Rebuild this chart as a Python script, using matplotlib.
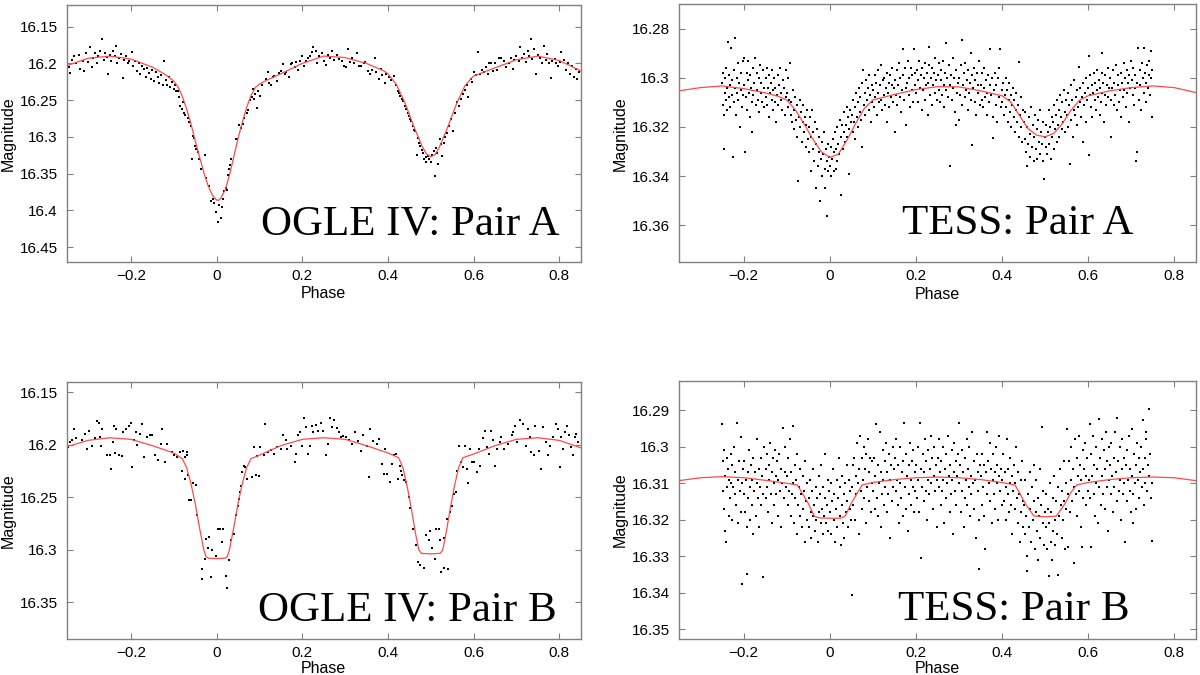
import numpy as np
import matplotlib
matplotlib.use("Agg")
import matplotlib.pyplot as plt
from matplotlib.ticker import FuncFormatter

plt.rcParams['font.family'] = ['Liberation Sans', 'DejaVu Sans']

# ---------------- data ----------------
xticks = [-0.2, 0, 0.2, 0.4, 0.6, 0.8]
yticks_ogle_a = [16.15, 16.2, 16.25, 16.3, 16.35, 16.4, 16.45]
yticks_tess_a = [16.28, 16.3, 16.32, 16.34, 16.36]
yticks_ogle_b = [16.15, 16.2, 16.25, 16.3, 16.35]
yticks_tess_b = [16.29, 16.3, 16.31, 16.32, 16.33, 16.34, 16.35]
labels = ["OGLE IV: Pair A", "TESS: Pair A", "OGLE IV: Pair B", "TESS: Pair B"]

ogle_a_obs = [
(-0.345,16.205),(-0.342,16.213),(-0.338,16.195),(-0.333,16.19),(-0.328,16.2),(-0.322,16.188),(-0.318,16.207),(-0.313,16.196),(-0.31,16.21),(-0.305,16.186),
(-0.3,16.198),(-0.295,16.178),(-0.292,16.205),(-0.288,16.192),(-0.283,16.186),(-0.28,16.2),(-0.276,16.19),(-0.272,16.183),(-0.267,16.167),(-0.264,16.195),
(-0.26,16.186),(-0.256,16.191),(-0.254,16.215),(-0.25,16.188),(-0.246,16.196),(-0.242,16.183),(-0.238,16.19),(-0.236,16.176),(-0.232,16.2),(-0.228,16.193),
(-0.224,16.187),(-0.219,16.22),(-0.216,16.195),(-0.212,16.19),(-0.208,16.2),(-0.204,16.196),(-0.198,16.184),(-0.195,16.203),(-0.19,16.197),(-0.186,16.21),
(-0.182,16.2),(-0.178,16.214),(-0.174,16.203),(-0.17,16.207),(-0.166,16.218),(-0.162,16.206),(-0.158,16.213),(-0.154,16.221),(-0.15,16.209),(-0.146,16.224),
(-0.142,16.212),(-0.138,16.219),(-0.134,16.227),(-0.13,16.216),(-0.126,16.23),(-0.122,16.196),(-0.119,16.222),(-0.115,16.229),(-0.112,16.219),(-0.108,16.232),
(-0.104,16.225),(-0.1,16.235),(-0.097,16.229),(-0.094,16.238),(-0.091,16.237),(-0.088,16.246),(-0.086,16.258),(-0.082,16.262),(-0.079,16.252),(-0.077,16.267),
(-0.073,16.27),(-0.068,16.274),(-0.065,16.28),(-0.06,16.285),(-0.057,16.33),(-0.055,16.299),(-0.053,16.302),(-0.051,16.312),(-0.048,16.316),(-0.044,16.32),
(-0.041,16.33),(-0.037,16.343),(-0.028,16.325),(-0.024,16.356),(-0.018,16.367),(-0.012,16.387),(-0.008,16.384),(-0.006,16.39),(-0.002,16.402),(0.003,16.416),
(0.006,16.392),(0.01,16.41),(0.013,16.395),(0.016,16.385),(0.018,16.374),(0.021,16.369),(0.024,16.372),(0.027,16.352),(0.03,16.344),(0.032,16.338),
(0.034,16.33),(0.045,16.303),(0.048,16.303),(0.052,16.284),(0.057,16.288),(0.061,16.283),(0.065,16.274),(0.07,16.267),(0.074,16.264),(0.079,16.25),
(0.082,16.245),(0.085,16.235),(0.088,16.249),(0.09,16.241),(0.094,16.26),(0.097,16.238),(0.101,16.244),(0.106,16.23),(0.115,16.221),(0.119,16.212),
(0.122,16.226),(0.128,16.23),(0.132,16.219),(0.135,16.217),(0.141,16.224),(0.145,16.213),(0.15,16.21),(0.155,16.201),(0.159,16.215),(0.163,16.212),
(0.168,16.219),(0.173,16.201),(0.177,16.199),(0.182,16.205),(0.186,16.198),(0.19,16.209),(0.195,16.196),(0.2,16.19),(0.204,16.203),(0.208,16.196),
(0.213,16.192),(0.218,16.19),(0.222,16.185),(0.226,16.178),(0.231,16.183),(0.235,16.199),(0.24,16.19),(0.245,16.186),(0.25,16.197),(0.255,16.202),
(0.26,16.188),(0.265,16.192),(0.269,16.183),(0.275,16.195),(0.28,16.189),(0.286,16.194),(0.292,16.196),(0.298,16.203),(0.303,16.205),(0.307,16.18),
(0.311,16.198),(0.315,16.192),(0.32,16.2),(0.327,16.186),(0.332,16.204),(0.338,16.203),(0.343,16.2),(0.347,16.198),(0.354,16.21),(0.358,16.214),
(0.363,16.209),(0.369,16.193),(0.373,16.212),(0.378,16.221),(0.383,16.207),(0.387,16.216),(0.392,16.226),(0.396,16.215),(0.402,16.219),(0.408,16.222),
(0.414,16.217),(0.418,16.23),(0.423,16.237),(0.426,16.24),(0.429,16.244),(0.433,16.248),(0.436,16.251),(0.44,16.258),(0.443,16.262),(0.446,16.268),
(0.448,16.271),(0.452,16.276),(0.454,16.278),(0.459,16.285),(0.461,16.29),(0.463,16.292),(0.468,16.324),(0.47,16.302),(0.472,16.308),(0.476,16.312),
(0.48,16.318),(0.483,16.322),(0.485,16.33),(0.488,16.327),(0.49,16.334),(0.494,16.326),(0.497,16.33),(0.501,16.334),(0.504,16.325),(0.508,16.319),
(0.51,16.353),(0.512,16.315),(0.515,16.322),(0.517,16.337),(0.521,16.303),(0.524,16.31),(0.526,16.326),(0.53,16.308),(0.534,16.3),(0.539,16.294),
(0.543,16.285),(0.548,16.276),(0.553,16.292),(0.557,16.267),(0.561,16.253),(0.565,16.258),(0.57,16.248),(0.575,16.242),(0.58,16.236),(0.584,16.23),
(0.588,16.246),(0.593,16.221),(0.597,16.225),(0.602,16.211),(0.606,16.216),(0.61,16.185),(0.615,16.215),(0.62,16.209),(0.624,16.212),(0.628,16.205),
(0.633,16.214),(0.637,16.199),(0.641,16.199),(0.646,16.21),(0.651,16.2),(0.655,16.209),(0.66,16.193),(0.665,16.193),(0.671,16.196),(0.676,16.205),
(0.682,16.199),(0.687,16.192),(0.691,16.208),(0.695,16.195),(0.7,16.19),(0.705,16.196),(0.709,16.178),(0.713,16.192),(0.717,16.187),(0.722,16.198),
(0.726,16.183),(0.73,16.19),(0.734,16.167),(0.737,16.194),(0.74,16.18),(0.745,16.215),(0.75,16.188),(0.755,16.192),(0.759,16.199),(0.764,16.176),
(0.768,16.195),(0.771,16.187),(0.775,16.2),(0.78,16.22),(0.784,16.196),(0.789,16.194),(0.793,16.2),(0.798,16.203),(0.802,16.198),(0.805,16.184),
(0.811,16.195),(0.815,16.209),(0.82,16.2),(0.825,16.214),(0.829,16.203),(0.834,16.218),(0.838,16.207),(0.842,16.221),(0.846,16.211),
]
ogle_a_model = [
(-0.35,16.203),(-0.3,16.193),(-0.25,16.19),(-0.2,16.194),(-0.15,16.205),(-0.12,16.215),(-0.1,16.224),(-0.09,16.232),(-0.08,16.245),(-0.07,16.262),
(-0.06,16.282),(-0.05,16.305),(-0.04,16.327),(-0.03,16.348),(-0.02,16.366),(-0.01,16.379),(0.0,16.386),(0.005,16.386),(0.01,16.383),(0.02,16.372),
(0.03,16.352),(0.04,16.327),(0.05,16.302),(0.06,16.28),(0.07,16.26),(0.08,16.244),(0.09,16.233),(0.1,16.228),(0.12,16.222),(0.15,16.214),
(0.2,16.2),(0.25,16.19),(0.3,16.192),(0.35,16.2),(0.39,16.21),(0.4,16.214),(0.42,16.229),(0.44,16.254),(0.46,16.285),(0.48,16.313),
(0.49,16.323),(0.5,16.327),(0.51,16.324),(0.52,16.314),(0.54,16.286),(0.56,16.255),(0.58,16.23),(0.6,16.217),(0.65,16.206),(0.7,16.195),
(0.75,16.19),(0.8,16.196),(0.85,16.21),
]

tess_a_obs = [
(-0.249,16.302),(-0.248,16.311),(-0.247,16.298),(-0.246,16.315),(-0.245,16.329),(-0.244,16.306),(-0.243,16.300),(-0.241,16.309),(-0.240,16.296),(-0.239,16.313),
(-0.238,16.304),(-0.236,16.2855),(-0.235,16.308),(-0.234,16.299),(-0.232,16.303),(-0.231,16.312),(-0.229,16.288),(-0.228,16.307),(-0.226,16.301),(-0.224,16.332),
(-0.223,16.297),(-0.222,16.310),(-0.221,16.304),(-0.219,16.2837),(-0.218,16.315),(-0.216,16.300),(-0.215,16.306),(-0.213,16.294),(-0.212,16.309),(-0.210,16.302),
(-0.208,16.320),(-0.207,16.298),(-0.205,16.305),(-0.204,16.312),(-0.202,16.293),(-0.201,16.307),
(-0.199,16.303),(-0.198,16.292),(-0.196,16.330),(-0.195,16.308),(-0.193,16.298),(-0.192,16.313),(-0.190,16.301),(-0.189,16.293),(-0.187,16.306),(-0.186,16.316),
(-0.184,16.299),(-0.183,16.304),(-0.181,16.322),(-0.180,16.310),(-0.178,16.296),(-0.177,16.307),(-0.175,16.302),(-0.174,16.292),(-0.172,16.311),(-0.170,16.305),
(-0.169,16.298),(-0.167,16.309),(-0.165,16.300),(-0.164,16.314),(-0.162,16.295),(-0.160,16.306),(-0.159,16.302),(-0.157,16.310),(-0.155,16.297),(-0.153,16.304),(-0.152,16.312),
(-0.149,16.300),(-0.148,16.308),(-0.146,16.296),(-0.145,16.311),(-0.143,16.304),(-0.142,16.299),(-0.140,16.316),(-0.139,16.306),(-0.137,16.302),(-0.135,16.309),
(-0.134,16.297),(-0.132,16.313),(-0.131,16.305),(-0.129,16.300),(-0.127,16.310),(-0.126,16.304),(-0.124,16.318),(-0.122,16.307),(-0.121,16.299),(-0.119,16.311),
(-0.117,16.303),(-0.115,16.296),(-0.114,16.309),(-0.112,16.306),(-0.110,16.313),(-0.108,16.301),(-0.106,16.304),(-0.104,16.315),(-0.102,16.297),(-0.101,16.308),
(-0.099,16.306),(-0.098,16.312),(-0.096,16.300),(-0.094,16.309),(-0.092,16.294),(-0.091,16.315),(-0.089,16.310),(-0.087,16.318),(-0.086,16.305),(-0.084,16.321),
(-0.082,16.313),(-0.080,16.308),(-0.079,16.317),(-0.077,16.311),(-0.075,16.324),(-0.073,16.342),(-0.072,16.316),(-0.070,16.309),(-0.068,16.320),(-0.066,16.314),
(-0.065,16.326),(-0.063,16.318),(-0.061,16.311),(-0.059,16.322),(-0.058,16.316),(-0.056,16.328),(-0.054,16.319),(-0.053,16.313),(-0.051,16.325),
(-0.049,16.320),(-0.048,16.330),(-0.046,16.316),(-0.044,16.338),(-0.043,16.324),(-0.041,16.313),(-0.040,16.329),(-0.038,16.322),(-0.036,16.334),(-0.035,16.318),
(-0.033,16.345),(-0.031,16.327),(-0.030,16.321),(-0.028,16.336),(-0.026,16.330),(-0.024,16.324),(-0.022,16.350),(-0.021,16.333),(-0.019,16.326),(-0.017,16.340),
(-0.016,16.331),(-0.014,16.322),(-0.012,16.337),(-0.011,16.345),(-0.009,16.329),(-0.007,16.334),(-0.006,16.356),(-0.004,16.338),(-0.003,16.327),(-0.001,16.332),
(0.001,16.336),(0.002,16.328),(0.004,16.340),(0.005,16.333),(0.007,16.325),(0.009,16.338),(0.010,16.330),(0.012,16.322),(0.014,16.337),(0.015,16.329),
(0.017,16.334),(0.018,16.320),(0.020,16.327),(0.022,16.331),(0.023,16.317),(0.025,16.3475),(0.027,16.324),(0.028,16.319),(0.030,16.329),(0.032,16.322),
(0.033,16.314),(0.035,16.326),(0.037,16.319),(0.039,16.312),(0.040,16.324),(0.042,16.316),(0.044,16.321),(0.045,16.339),(0.047,16.313),(0.049,16.318),
(0.051,16.315),(0.053,16.322),(0.054,16.309),(0.056,16.318),(0.058,16.312),(0.059,16.325),(0.061,16.306),(0.063,16.316),(0.065,16.310),(0.066,16.320),
(0.068,16.304),(0.070,16.314),(0.071,16.308),(0.073,16.317),(0.075,16.328),(0.076,16.302),(0.078,16.297),(0.080,16.311),(0.081,16.306),(0.083,16.315),
(0.085,16.301),(0.087,16.309),(0.088,16.304),(0.090,16.313),(0.092,16.299),(0.094,16.307),(0.095,16.318),(0.097,16.303),(0.099,16.310),
(0.101,16.305),(0.103,16.312),(0.104,16.299),(0.106,16.308),(0.108,16.302),(0.109,16.315),(0.111,16.306),(0.113,16.297),(0.114,16.310),(0.116,16.303),
(0.118,16.309),(0.120,16.295),(0.121,16.313),(0.123,16.301),(0.125,16.307),(0.126,16.300),(0.128,16.311),(0.130,16.304),(0.132,16.318),(0.133,16.298),
(0.135,16.306),(0.137,16.302),(0.138,16.312),(0.140,16.299),(0.142,16.308),(0.144,16.303),(0.145,16.296),(0.147,16.310),(0.149,16.304),
(0.151,16.301),(0.152,16.322),(0.154,16.307),(0.156,16.297),(0.157,16.311),(0.159,16.303),(0.161,16.294),(0.163,16.308),(0.164,16.300),(0.166,16.314),
(0.168,16.305),(0.169,16.2885),(0.171,16.299),(0.173,16.309),(0.175,16.296),(0.176,16.304),(0.178,16.319),(0.180,16.302),(0.182,16.293),(0.183,16.307),
(0.185,16.300),(0.187,16.312),(0.189,16.296),(0.190,16.305),(0.192,16.299),(0.194,16.310),(0.195,16.2885),(0.197,16.303),(0.199,16.298),
(0.201,16.306),(0.203,16.297),(0.204,16.310),(0.206,16.301),(0.208,16.293),(0.209,16.304),(0.211,16.299),(0.213,16.313),(0.215,16.296),(0.216,16.305),
(0.218,16.300),(0.220,16.309),(0.221,16.294),(0.223,16.303),(0.225,16.298),(0.227,16.315),(0.228,16.302),(0.230,16.295),(0.231,16.2875),(0.233,16.307),
(0.235,16.300),(0.237,16.296),(0.238,16.311),(0.240,16.303),(0.242,16.298),(0.244,16.306),(0.245,16.292),(0.247,16.301),(0.249,16.309),
(0.251,16.299),(0.253,16.305),(0.254,16.294),(0.256,16.310),(0.258,16.301),(0.259,16.297),(0.261,16.307),(0.263,16.293),(0.265,16.303),(0.266,16.312),
(0.268,16.298),(0.270,16.305),(0.271,16.286),(0.273,16.300),(0.275,16.308),(0.277,16.295),(0.278,16.303),(0.280,16.336),(0.282,16.299),(0.283,16.309),
(0.285,16.292),(0.287,16.304),(0.289,16.300),(0.290,16.314),(0.292,16.319),(0.294,16.297),(0.295,16.306),(0.297,16.302),(0.299,16.317),
(0.301,16.300),(0.303,16.307),(0.304,16.295),(0.306,16.311),(0.307,16.2847),(0.309,16.303),(0.311,16.298),(0.313,16.308),(0.314,16.294),(0.316,16.305),
(0.318,16.301),(0.320,16.313),(0.321,16.297),(0.323,16.306),(0.325,16.302),(0.327,16.290),(0.328,16.309),(0.330,16.299),(0.331,16.3275),(0.333,16.304),
(0.335,16.296),(0.337,16.310),(0.338,16.301),(0.340,16.315),(0.342,16.298),(0.344,16.306),(0.345,16.303),(0.347,16.293),(0.349,16.311),
(0.351,16.303),(0.353,16.309),(0.354,16.298),(0.356,16.312),(0.358,16.304),(0.359,16.296),(0.361,16.308),(0.363,16.301),(0.365,16.315),(0.366,16.306),
(0.368,16.299),(0.370,16.310),(0.371,16.303),(0.373,16.2885),(0.375,16.307),(0.377,16.300),(0.378,16.316),(0.380,16.3245),(0.382,16.305),(0.383,16.298),
(0.385,16.311),(0.387,16.303),(0.389,16.318),(0.390,16.300),(0.392,16.308),(0.394,16.296),(0.396,16.2885),(0.397,16.312),(0.399,16.305),
(0.401,16.310),(0.403,16.302),(0.404,16.315),(0.406,16.307),(0.408,16.300),(0.409,16.312),(0.411,16.305),(0.413,16.318),(0.415,16.309),(0.416,16.302),
(0.418,16.314),(0.420,16.307),(0.421,16.320),(0.423,16.311),(0.425,16.304),(0.427,16.316),(0.428,16.309),(0.430,16.322),(0.432,16.313),(0.433,16.306),
(0.435,16.318),(0.437,16.311),(0.439,16.324),(0.440,16.2935),(0.442,16.315),(0.444,16.308),(0.445,16.320),(0.447,16.326),(0.449,16.313),
(0.451,16.318),(0.453,16.325),(0.454,16.314),(0.456,16.330),(0.458,16.336),(0.459,16.320),(0.461,16.327),(0.463,16.316),(0.465,16.332),(0.466,16.323),
(0.468,16.312),(0.470,16.328),(0.471,16.319),(0.473,16.334),(0.475,16.324),(0.477,16.315),(0.478,16.329),(0.480,16.321),(0.482,16.333),(0.483,16.317),
(0.485,16.326),(0.487,16.313),(0.489,16.331),(0.490,16.322),(0.492,16.327),(0.494,16.318),(0.496,16.334),(0.498,16.341),(0.499,16.324),
(0.501,16.328),(0.503,16.319),(0.504,16.331),(0.506,16.322),(0.508,16.313),(0.509,16.327),(0.511,16.320),(0.513,16.333),(0.515,16.316),(0.516,16.324),
(0.518,16.318),(0.520,16.329),(0.521,16.311),(0.523,16.321),(0.525,16.315),(0.527,16.326),(0.528,16.309),(0.530,16.319),(0.532,16.313),(0.533,16.324),
(0.535,16.307),(0.537,16.316),(0.539,16.321),(0.540,16.310),(0.542,16.318),(0.544,16.305),(0.545,16.314),(0.547,16.322),(0.549,16.309),
(0.551,16.315),(0.553,16.306),(0.554,16.320),(0.556,16.311),(0.558,16.335),(0.559,16.303),(0.561,16.317),(0.563,16.309),(0.565,16.324),(0.566,16.313),
(0.568,16.301),(0.570,16.315),(0.571,16.308),(0.573,16.319),(0.575,16.305),(0.577,16.312),(0.578,16.2955),(0.580,16.310),(0.582,16.304),(0.583,16.316),
(0.585,16.308),(0.587,16.326),(0.589,16.302),(0.590,16.311),(0.592,16.306),(0.594,16.318),(0.595,16.300),(0.597,16.309),(0.599,16.304),
(0.601,16.291),(0.602,16.3315),(0.603,16.307),(0.604,16.299),(0.606,16.312),(0.608,16.303),(0.609,16.316),(0.611,16.306),(0.613,16.298),(0.615,16.309),
(0.616,16.302),(0.618,16.313),(0.620,16.305),(0.621,16.297),(0.623,16.308),(0.625,16.301),(0.627,16.315),(0.628,16.304),(0.630,16.310),(0.631,16.290),
(0.632,16.298),(0.633,16.306),(0.635,16.302),(0.637,16.318),(0.639,16.307),(0.640,16.299),(0.642,16.311),(0.644,16.303),(0.645,16.296),(0.647,16.308),(0.649,16.304),
(0.651,16.300),(0.653,16.309),(0.654,16.324),(0.656,16.304),(0.658,16.297),(0.659,16.311),(0.661,16.302),(0.663,16.307),(0.665,16.295),(0.666,16.313),
(0.668,16.303),(0.670,16.299),(0.671,16.310),(0.673,16.305),(0.675,16.298),(0.677,16.316),(0.678,16.302),(0.680,16.308),(0.682,16.294),(0.683,16.305),
(0.685,16.300),(0.687,16.312),(0.689,16.297),(0.690,16.306),(0.692,16.302),(0.694,16.318),(0.695,16.299),(0.697,16.304),(0.699,16.293),
(0.701,16.301),(0.703,16.307),(0.704,16.296),(0.706,16.311),(0.708,16.299),(0.709,16.304),(0.711,16.334),(0.713,16.302),(0.714,16.330),(0.716,16.288),
(0.718,16.309),(0.720,16.297),(0.721,16.303),(0.723,16.313),(0.725,16.294),(0.727,16.300),(0.729,16.288),(0.730,16.306),(0.732,16.298),(0.734,16.310),
(0.735,16.302),(0.737,16.295),(0.739,16.304),(0.740,16.299),(0.742,16.293),(0.744,16.307),(0.745,16.289),(0.746,16.300),(0.747,16.297),(0.748,16.316),
]
tess_a_model = [
(-0.35,16.3053),(-0.3,16.304),(-0.25,16.3033),(-0.2,16.3044),(-0.15,16.3061),(-0.12,16.3075),(-0.1,16.309),(-0.08,16.313),(-0.06,16.3186),(-0.04,16.3247),
(-0.02,16.33),(0.0,16.3324),(0.02,16.331),(0.04,16.3254),(0.06,16.3186),(0.08,16.3125),(0.1,16.309),(0.15,16.3068),(0.2,16.3048),(0.25,16.3036),
(0.3,16.3037),(0.35,16.3053),(0.4,16.3073),(0.42,16.3098),(0.44,16.3152),(0.46,16.3206),(0.48,16.3233),(0.5,16.324),(0.52,16.3226),(0.54,16.3186),
(0.56,16.3132),(0.58,16.3091),(0.6,16.3073),(0.65,16.3053),(0.7,16.304),(0.75,16.3033),(0.8,16.304),(0.85,16.306),
]

ogle_b_obs = [
(-0.35,16.222),(-0.346,16.202),(-0.343,16.198),(-0.337,16.196),(-0.334,16.185),(-0.328,16.194),(-0.314,16.196),(-0.308,16.19),(-0.303,16.204),(-0.299,16.187),
(-0.292,16.201),(-0.285,16.194),(-0.279,16.178),(-0.274,16.179),(-0.272,16.193),(-0.27,16.201),(-0.267,16.185),(-0.256,16.21),(-0.249,16.21),(-0.246,16.223),
(-0.243,16.198),(-0.24,16.182),(-0.237,16.208),(-0.234,16.185),(-0.228,16.21),(-0.222,16.211),(-0.219,16.188),(-0.212,16.185),(-0.205,16.182),(-0.201,16.179),
(-0.198,16.221),(-0.194,16.196),(-0.189,16.188),(-0.185,16.2),(-0.18,16.19),(-0.174,16.18),(-0.169,16.212),(-0.162,16.193),(-0.155,16.191),(-0.151,16.191),
(-0.144,16.21),(-0.136,16.215),(-0.131,16.199),(-0.127,16.185),(-0.12,16.217),(-0.116,16.199),(-0.104,16.207),(-0.1,16.21),(-0.093,16.212),(-0.086,16.207),
(-0.079,16.206),(-0.075,16.212),(-0.07,16.207),(-0.069,16.21),(-0.082,16.225),(-0.073,16.233),(-0.067,16.229),(-0.064,16.253),(-0.06,16.253),(-0.055,16.237),
(-0.049,16.238),(-0.046,16.267),(-0.035,16.318),(-0.033,16.328),(-0.028,16.309),(-0.024,16.29),(-0.02,16.298),(-0.017,16.288),(-0.013,16.326),(-0.01,16.3),
(-0.002,16.306),(0.003,16.28),(0.007,16.28),(0.012,16.293),(0.015,16.28),(0.021,16.325),(0.025,16.336),(0.028,16.31),(0.034,16.291),(0.04,16.285),
(0.046,16.267),(0.05,16.258),(0.052,16.252),(0.055,16.245),(0.057,16.239),(0.059,16.226),(0.064,16.22),(0.067,16.221),(0.072,16.233),(0.083,16.231),
(0.092,16.229),(0.099,16.23),(0.088,16.202),(0.101,16.202),(0.094,16.211),(0.11,16.21),(0.113,16.18),(0.119,16.207),(0.128,16.205),(0.135,16.209),
(0.141,16.202),(0.15,16.204),(0.155,16.191),(0.162,16.196),(0.165,16.204),(0.173,16.201),(0.182,16.217),(0.186,16.209),(0.191,16.191),(0.195,16.188),
(0.2,16.201),(0.204,16.175),(0.208,16.183),(0.213,16.209),(0.217,16.201),(0.222,16.182),(0.226,16.188),(0.231,16.181),(0.237,16.187),(0.244,16.179),
(0.249,16.187),(0.255,16.21),(0.26,16.199),(0.264,16.175),(0.269,16.183),(0.275,16.177),(0.28,16.184),(0.285,16.188),(0.291,16.193),(0.296,16.192),
(0.302,16.193),(0.308,16.196),(0.316,16.199),(0.323,16.188),(0.329,16.197),(0.336,16.206),(0.342,16.191),(0.35,16.201),(0.355,16.231),(0.359,16.185),
(0.365,16.197),(0.374,16.199),(0.378,16.195),(0.385,16.218),(0.39,16.228),(0.394,16.204),(0.398,16.228),(0.405,16.236),(0.41,16.218),(0.414,16.21),
(0.418,16.209),(0.423,16.233),(0.427,16.22),(0.43,16.225),(0.433,16.229),(0.438,16.234),(0.443,16.236),(0.448,16.25),(0.451,16.26),(0.459,16.28),
(0.466,16.296),(0.47,16.312),(0.476,16.315),(0.485,16.317),(0.489,16.286),(0.495,16.291),(0.498,16.282),(0.502,16.298),(0.509,16.309),(0.512,16.28),
(0.519,16.28),(0.521,16.291),(0.525,16.321),(0.53,16.317),(0.532,16.289),(0.539,16.271),(0.541,16.318),(0.546,16.264),(0.549,16.258),(0.555,16.247),
(0.558,16.245),(0.561,16.225),(0.566,16.201),(0.57,16.217),(0.575,16.221),(0.579,16.201),(0.584,16.223),(0.588,16.237),(0.591,16.204),(0.597,16.217),
(0.602,16.217),(0.609,16.226),(0.612,16.204),(0.615,16.22),(0.621,16.194),(0.626,16.187),(0.632,16.202),(0.636,16.209),(0.641,16.187),(0.645,16.196),
(0.65,16.22),(0.655,16.204),(0.661,16.198),(0.664,16.193),(0.671,16.204),(0.68,16.199),(0.689,16.191),(0.693,16.188),(0.697,16.182),(0.702,16.198),
(0.708,16.177),(0.715,16.18),(0.722,16.201),(0.727,16.185),(0.731,16.193),(0.735,16.207),(0.74,16.21),(0.744,16.182),(0.753,16.206),(0.757,16.223),
(0.761,16.183),(0.768,16.198),(0.774,16.21),(0.779,16.201),(0.786,16.193),(0.792,16.18),(0.796,16.185),(0.801,16.221),(0.805,16.193),(0.809,16.204),
(0.814,16.188),(0.818,16.182),(0.822,16.191),(0.827,16.202),(0.831,16.21),(0.836,16.193),(0.84,16.19),(0.844,16.198),
]
ogle_b_model = [
(-0.35,16.202),(-0.3,16.196),(-0.25,16.1935),(-0.2,16.195),(-0.15,16.201),(-0.1,16.208),(-0.08,16.2135),(-0.07,16.222),(-0.06,16.237),(-0.05,16.256),
(-0.04,16.279),(-0.03,16.3),(-0.025,16.3065),(-0.02,16.308),(0.0,16.3085),(0.02,16.308),(0.025,16.3065),(0.03,16.3),(0.04,16.279),(0.05,16.256),
(0.06,16.237),(0.07,16.222),(0.08,16.2135),(0.1,16.21),(0.15,16.201),(0.2,16.195),(0.25,16.1935),(0.3,16.195),(0.35,16.201),(0.4,16.208),
(0.425,16.2125),(0.435,16.222),(0.445,16.24),(0.455,16.262),(0.465,16.286),(0.472,16.3),(0.478,16.3035),(0.5,16.304),(0.522,16.3035),(0.528,16.3),
(0.535,16.286),(0.545,16.262),(0.555,16.24),(0.565,16.222),(0.575,16.2125),(0.6,16.209),(0.65,16.201),(0.7,16.195),(0.75,16.1935),(0.8,16.196),(0.85,16.203),
]

tess_b_obs = [
(-0.249,16.2938),(-0.248,16.304),(-0.247,16.312),(-0.246,16.317),(-0.245,16.301),(-0.243,16.323),(-0.242,16.308),(-0.241,16.326),(-0.239,16.303),(-0.238,16.311),
(-0.236,16.306),(-0.235,16.319),(-0.233,16.309),(-0.232,16.314),(-0.230,16.302),(-0.229,16.310),(-0.227,16.305),(-0.226,16.320),(-0.224,16.311),(-0.222,16.300),
(-0.221,16.313),(-0.219,16.307),(-0.217,16.316),(-0.216,16.2934),(-0.214,16.309),(-0.212,16.321),(-0.211,16.304),(-0.209,16.312),(-0.207,16.318),(-0.206,16.2972),
(-0.204,16.3375),(-0.203,16.310),(-0.201,16.306),
(-0.199,16.313),(-0.198,16.304),(-0.196,16.318),(-0.195,16.309),(-0.193,16.3349),(-0.192,16.322),(-0.190,16.307),(-0.189,16.314),(-0.187,16.301),(-0.186,16.311),
(-0.184,16.320),(-0.183,16.305),(-0.181,16.316),(-0.180,16.309),(-0.178,16.324),(-0.177,16.303),(-0.175,16.312),(-0.173,16.307),(-0.172,16.319),(-0.170,16.310),
(-0.169,16.298),(-0.167,16.314),(-0.165,16.306),(-0.164,16.322),(-0.162,16.311),(-0.160,16.303),(-0.159,16.316),(-0.157,16.308),(-0.156,16.3358),(-0.154,16.313),(-0.152,16.300),
(-0.149,16.306),(-0.148,16.314),(-0.146,16.302),(-0.145,16.311),(-0.143,16.318),(-0.142,16.305),(-0.140,16.309),(-0.138,16.299),(-0.137,16.313),(-0.135,16.307),
(-0.134,16.321),(-0.132,16.303),(-0.130,16.310),(-0.129,16.316),(-0.127,16.301),(-0.125,16.308),(-0.124,16.313),(-0.122,16.304),(-0.120,16.319),(-0.119,16.309),
(-0.117,16.302),(-0.115,16.312),(-0.114,16.306),(-0.112,16.322),(-0.110,16.310),(-0.109,16.295),(-0.107,16.314),(-0.105,16.307),(-0.104,16.300),(-0.102,16.311),
(-0.099,16.308),(-0.098,16.316),(-0.096,16.303),(-0.094,16.312),(-0.093,16.298),(-0.091,16.319),(-0.090,16.307),(-0.088,16.313),(-0.086,16.2943),(-0.085,16.310),
(-0.083,16.321),(-0.081,16.305),(-0.080,16.314),(-0.078,16.309),(-0.077,16.324),(-0.075,16.302),(-0.073,16.316),(-0.072,16.311),(-0.070,16.319),(-0.068,16.306),
(-0.067,16.313),(-0.065,16.322),(-0.063,16.308),(-0.062,16.317),(-0.060,16.312),(-0.058,16.326),(-0.057,16.304),(-0.055,16.315),(-0.053,16.320),(-0.052,16.310),
(-0.049,16.314),(-0.048,16.322),(-0.046,16.309),(-0.044,16.318),(-0.043,16.325),(-0.041,16.312),(-0.040,16.319),(-0.038,16.306),(-0.036,16.316),(-0.035,16.323),
(-0.033,16.311),(-0.031,16.320),(-0.030,16.314),(-0.028,16.326),(-0.026,16.308),(-0.025,16.318),(-0.023,16.313),(-0.021,16.321),(-0.020,16.305),(-0.018,16.317),
(-0.016,16.324),(-0.015,16.311),(-0.013,16.319),(-0.011,16.314),(-0.010,16.302),(-0.008,16.321),(-0.006,16.316),(-0.005,16.309),(-0.003,16.323),(-0.001,16.312),
(0.001,16.318),(0.003,16.310),(0.004,16.324),(0.006,16.315),(0.008,16.306),(0.009,16.320),(0.011,16.313),(0.013,16.326),(0.014,16.317),(0.016,16.309),
(0.018,16.322),(0.019,16.314),(0.021,16.303),(0.023,16.319),(0.024,16.311),(0.026,16.327),(0.028,16.316),(0.029,16.308),(0.031,16.321),(0.033,16.313),
(0.034,16.325),(0.036,16.310),(0.038,16.318),(0.039,16.305),(0.041,16.315),(0.043,16.322),(0.044,16.309),(0.046,16.317),(0.048,16.312),(0.049,16.320),
(0.051,16.311),(0.052,16.3407),(0.054,16.305),(0.055,16.316),(0.057,16.303),(0.059,16.320),(0.060,16.308),(0.062,16.313),(0.064,16.299),(0.065,16.310),
(0.067,16.324),(0.069,16.306),(0.070,16.297),(0.072,16.312),(0.074,16.303),(0.075,16.317),(0.077,16.309),(0.079,16.300),(0.080,16.314),(0.082,16.306),
(0.084,16.321),(0.085,16.302),(0.087,16.311),(0.089,16.298),(0.090,16.315),(0.092,16.307),(0.094,16.303),(0.095,16.318),(0.097,16.310),(0.099,16.304),
(0.101,16.312),(0.103,16.303),(0.104,16.317),(0.106,16.308),(0.108,16.2937),(0.109,16.314),(0.111,16.305),(0.113,16.319),(0.114,16.310),(0.116,16.296),
(0.118,16.307),(0.119,16.322),(0.121,16.313),(0.123,16.301),(0.124,16.309),(0.126,16.316),(0.128,16.304),(0.129,16.311),(0.131,16.299),(0.133,16.318),
(0.134,16.307),(0.136,16.313),(0.138,16.302),(0.139,16.325),(0.141,16.309),(0.143,16.305),(0.144,16.315),(0.146,16.300),(0.148,16.311),(0.149,16.306),
(0.151,16.303),(0.153,16.312),(0.154,16.298),(0.156,16.309),(0.158,16.316),(0.159,16.305),(0.161,16.321),(0.163,16.310),(0.164,16.300),(0.166,16.314),
(0.168,16.307),(0.169,16.319),(0.171,16.304),(0.173,16.2934),(0.174,16.311),(0.176,16.302),(0.178,16.317),(0.179,16.308),(0.181,16.323),(0.183,16.305),
(0.184,16.313),(0.186,16.299),(0.188,16.309),(0.189,16.316),(0.191,16.304),(0.193,16.311),(0.194,16.301),(0.196,16.318),(0.198,16.307),(0.199,16.312),
(0.201,16.305),(0.203,16.314),(0.204,16.300),(0.206,16.309),(0.208,16.318),(0.209,16.2934),(0.211,16.306),(0.212,16.3305),(0.214,16.311),(0.216,16.302),
(0.218,16.315),(0.219,16.307),(0.221,16.298),(0.223,16.312),(0.224,16.304),(0.226,16.320),(0.228,16.309),(0.229,16.301),(0.231,16.313),(0.233,16.306),
(0.234,16.297),(0.236,16.310),(0.238,16.303),(0.239,16.317),(0.241,16.308),(0.243,16.300),(0.244,16.312),(0.246,16.305),(0.248,16.322),(0.249,16.309),
(0.251,16.303),(0.253,16.311),(0.254,16.298),(0.256,16.307),(0.258,16.316),(0.259,16.304),(0.261,16.312),(0.263,16.300),(0.264,16.309),(0.266,16.321),
(0.268,16.306),(0.269,16.314),(0.271,16.302),(0.273,16.310),(0.274,16.297),(0.276,16.308),(0.278,16.318),(0.279,16.305),(0.281,16.313),(0.283,16.301),
(0.284,16.309),(0.286,16.324),(0.288,16.307),(0.289,16.299),(0.291,16.312),(0.293,16.304),(0.294,16.316),(0.296,16.308),(0.298,16.302),(0.299,16.2936),
(0.301,16.310),(0.303,16.305),(0.304,16.318),(0.306,16.301),(0.308,16.312),(0.309,16.307),(0.311,16.322),(0.313,16.303),(0.314,16.314),(0.316,16.309),
(0.318,16.298),(0.319,16.316),(0.321,16.306),(0.323,16.311),(0.324,16.300),(0.326,16.319),(0.328,16.308),(0.329,16.313),(0.331,16.296),(0.333,16.310),
(0.334,16.304),(0.336,16.317),(0.338,16.309),(0.339,16.325),(0.341,16.302),(0.343,16.312),(0.344,16.307),(0.346,16.320),(0.347,16.3334),(0.349,16.305),
(0.351,16.308),(0.353,16.316),(0.354,16.302),(0.356,16.311),(0.358,16.305),(0.359,16.319),(0.361,16.328),(0.363,16.307),(0.364,16.296),(0.366,16.313),
(0.368,16.304),(0.369,16.310),(0.371,16.299),(0.373,16.315),(0.374,16.306),(0.376,16.321),(0.378,16.309),(0.379,16.302),(0.381,16.313),(0.383,16.307),
(0.384,16.317),(0.386,16.300),(0.388,16.310),(0.389,16.305),(0.391,16.320),(0.393,16.308),(0.394,16.297),(0.396,16.312),(0.398,16.306),(0.399,16.316),
(0.401,16.309),(0.403,16.302),(0.404,16.315),(0.406,16.307),(0.408,16.320),(0.409,16.311),(0.411,16.298),(0.413,16.313),(0.414,16.306),(0.416,16.318),
(0.418,16.310),(0.419,16.303),(0.421,16.316),(0.423,16.308),(0.424,16.324),(0.426,16.312),(0.428,16.305),(0.429,16.317),(0.431,16.310),(0.433,16.300),
(0.434,16.314),(0.436,16.321),(0.438,16.307),(0.439,16.313),(0.441,16.326),(0.443,16.309),(0.444,16.318),(0.446,16.304),(0.448,16.315),(0.449,16.322),
(0.451,16.316),(0.453,16.324),(0.454,16.309),(0.456,16.319),(0.458,16.334),(0.459,16.330),(0.461,16.313),(0.463,16.322),(0.464,16.307),(0.466,16.317),
(0.468,16.326),(0.469,16.311),(0.471,16.320),(0.473,16.305),(0.474,16.315),(0.476,16.328),(0.478,16.318),(0.479,16.309),(0.481,16.323),(0.483,16.314),
(0.484,16.331),(0.486,16.319),(0.488,16.306),(0.489,16.325),(0.491,16.316),(0.493,16.2946),(0.494,16.321),(0.496,16.312),(0.498,16.327),(0.499,16.318),
(0.501,16.322),(0.503,16.313),(0.504,16.328),(0.506,16.317),(0.508,16.3354),(0.509,16.321),(0.511,16.310),(0.513,16.326),(0.514,16.318),(0.516,16.331),
(0.518,16.314),(0.519,16.323),(0.521,16.308),(0.523,16.320),(0.524,16.327),(0.526,16.315),(0.528,16.324),(0.529,16.311),(0.531,16.3351),(0.533,16.319),
(0.534,16.306),(0.536,16.316),(0.538,16.325),(0.539,16.312),(0.541,16.320),(0.543,16.304),(0.544,16.315),(0.546,16.328),(0.548,16.310),(0.549,16.317),
(0.551,16.2952),(0.553,16.3276),(0.554,16.313),(0.556,16.304),(0.558,16.318),(0.559,16.309),(0.561,16.300),(0.563,16.315),(0.564,16.306),(0.566,16.332),
(0.568,16.311),(0.569,16.298),(0.571,16.313),(0.573,16.303),(0.574,16.319),(0.576,16.308),(0.578,16.297),(0.579,16.312),(0.581,16.305),(0.583,16.322),
(0.584,16.309),(0.585,16.3276),(0.587,16.301),(0.589,16.314),(0.590,16.306),(0.592,16.299),(0.594,16.316),(0.595,16.308),(0.597,16.303),(0.599,16.312),
(0.601,16.309),(0.603,16.2938),(0.604,16.314),(0.606,16.302),(0.607,16.3276),(0.609,16.308),(0.611,16.297),(0.613,16.313),(0.614,16.305),(0.616,16.319),
(0.618,16.300),(0.619,16.310),(0.621,16.306),(0.623,16.321),(0.624,16.2925),(0.626,16.311),(0.628,16.303),(0.629,16.316),(0.631,16.298),(0.633,16.308),
(0.634,16.313),(0.636,16.301),(0.638,16.317),(0.639,16.306),(0.641,16.296),(0.643,16.311),(0.644,16.304),(0.646,16.323),(0.648,16.309),(0.649,16.300),
(0.651,16.305),(0.653,16.313),(0.654,16.299),(0.656,16.308),(0.658,16.318),(0.659,16.303),(0.661,16.311),(0.663,16.296),(0.664,16.307),(0.666,16.315),
(0.667,16.2922),(0.669,16.304),(0.671,16.312),(0.673,16.300),(0.674,16.309),(0.676,16.320),(0.678,16.306),(0.679,16.298),(0.681,16.313),(0.683,16.303),
(0.684,16.310),(0.686,16.326),(0.688,16.305),(0.689,16.315),(0.691,16.301),(0.693,16.309),(0.694,16.297),(0.696,16.312),(0.698,16.306),(0.699,16.318),
(0.701,16.308),(0.702,16.2952),(0.704,16.313),(0.705,16.321),(0.707,16.302),(0.709,16.310),(0.710,16.305),(0.712,16.317),(0.714,16.299),(0.715,16.309),
(0.717,16.303),(0.719,16.314),(0.720,16.307),(0.722,16.300),(0.724,16.311),(0.726,16.2927),(0.727,16.306),(0.729,16.316),(0.731,16.303),(0.732,16.310),
(0.734,16.298),(0.735,16.296),(0.737,16.312),(0.739,16.305),(0.740,16.2896),(0.742,16.308),(0.744,16.302),(0.745,16.314),(0.747,16.310),(0.748,16.3258),
]
tess_b_model = [
(-0.35,16.3093),(-0.3,16.3085),(-0.25,16.3082),(-0.2,16.3085),(-0.15,16.3092),(-0.1,16.31),(-0.075,16.3105),(-0.065,16.3125),(-0.05,16.3155),(-0.036,16.319),
(-0.025,16.3195),(0.0,16.3196),(0.025,16.3196),(0.036,16.319),(0.05,16.3155),(0.065,16.3125),(0.075,16.3105),(0.1,16.3098),(0.15,16.309),(0.2,16.3085),
(0.25,16.3083),(0.3,16.3085),(0.35,16.309),(0.4,16.3098),(0.43,16.3105),(0.44,16.3125),(0.455,16.3158),(0.474,16.319),(0.5,16.3192),(0.526,16.319),
(0.545,16.3158),(0.56,16.3125),(0.573,16.3105),(0.6,16.3098),(0.65,16.309),(0.7,16.3085),(0.75,16.3083),(0.8,16.3085),(0.85,16.3093),
]

# ---------------- figure ----------------
fig = plt.figure(figsize=(12, 6.75), dpi=100)

panels = [
    # obs, model, yticks, ylim, axes rect, label, text pos, marker size, xlabel y
    (ogle_a_obs, ogle_a_model, yticks_ogle_a, (16.4705, 16.1205), [0.0556, 0.6114, 0.4283, 0.3812], labels[0], (0.96, 0.11), 4.0, -0.094),
    (tess_a_obs, tess_a_model, yticks_tess_a, (16.375, 16.270), [0.5658, 0.6114, 0.4308, 0.3827], labels[1], (0.88, 0.11), 3.2, -0.094),
    (ogle_b_obs, ogle_b_model, yticks_ogle_b, (16.385, 16.1405), [0.0556, 0.0533, 0.4283, 0.3807], labels[2], (0.953, 0.074), 4.0, -0.084),
    (tess_b_obs, tess_b_model, yticks_tess_b, (16.3527, 16.282), [0.5658, 0.0533, 0.4308, 0.3822], labels[3], (0.872, 0.074), 3.2, -0.084),
]

fmt = FuncFormatter(lambda v, p: ('%g' % round(v, 4)).replace('-', '\u2212'))

for obs, model, yt, ylim, rect, lab, tpos, msize, xly in panels:
    ax = fig.add_axes(rect)
    o = np.array(obs)
    m = np.array(model)
    ax.scatter(o[:, 0], o[:, 1], s=msize, marker='s', color='black', linewidths=0, zorder=2)
    ax.plot(m[:, 0], m[:, 1], color='#ff4a4a', lw=0.9, zorder=3)
    ax.set_xlim(-0.35, 0.85)
    ax.set_ylim(*ylim)
    ax.set_xticks(xticks)
    ax.set_yticks(yt)
    ax.xaxis.set_major_formatter(fmt)
    ax.yaxis.set_major_formatter(fmt)
    ax.tick_params(direction='in', length=4, width=0.8, color='#808080',
                   top=True, right=True, labelsize=11)
    ax.tick_params(axis='x', pad=5)
    ax.tick_params(axis='y', pad=6.5)
    for sp in ax.spines.values():
        sp.set_color('#808080')
        sp.set_linewidth(1.0)
    ax.set_xlabel('Phase', fontsize=11.5)
    ax.set_ylabel('Magnitude', fontsize=11.5)
    ax.xaxis.set_label_coords(0.5, xly)
    ax.xaxis.label.set_va('top')
    ax.yaxis.set_label_coords(-0.099, 0.5)
    ax.text(tpos[0], tpos[1], lab, transform=ax.transAxes, ha='right', va='baseline',
            fontsize=31, family=['Liberation Serif', 'DejaVu Serif'], color='black')

fig.savefig('out.png', dpi=100)
